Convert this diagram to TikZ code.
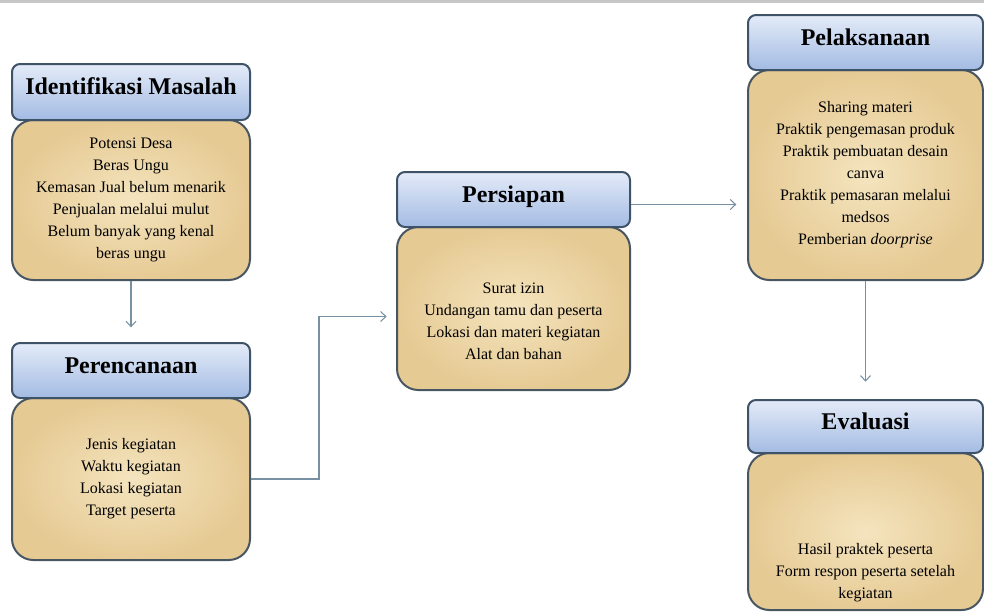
\documentclass[tikz,border=0pt]{standalone}
\usepackage{fontspec}
\setmainfont{Liberation Serif}
\usepackage{tikz}
\usetikzlibrary{arrows.meta,positioning,calc}

\definecolor{hdrline}{RGB}{62,82,104}
\definecolor{hdrtop}{RGB}{228,235,248}
\definecolor{hdrbot}{RGB}{163,187,227}
\definecolor{papin}{RGB}{244,228,190}
\definecolor{papout}{RGB}{230,202,148}
\definecolor{bodyline}{RGB}{72,86,98}
\definecolor{arrowc}{RGB}{120,145,162}

\begin{document}
\begin{tikzpicture}[
  x=0.75pt,y=-0.75pt,
  >={Straight Barb[length=4pt,width=7.5pt]},
  hdr/.style={draw=hdrline,line width=1.5pt,rounded corners=6pt,
              top color=hdrtop,bottom color=hdrbot,
              font=\fontsize{18}{20}\selectfont\bfseries,
              text height=12.5pt,text depth=8.5pt,
              inner sep=0pt,align=center},
  bdy/.style={draw=bodyline,line width=1.5pt,rounded corners=16pt,
              inner color=papin,outer color=papout,
              font=\fontsize{12}{16.5}\selectfont,
              inner sep=0pt,align=center},
  conn/.style={draw=arrowc,line width=0.8pt,->}
]
\useasboundingbox (0,0) rectangle (984,612);
\fill[black!22] (0,0) rectangle (984,3);

%% left column
\node[bdy,minimum width=178.5pt,minimum height=120pt] (idB) at (131,200)
  {Potensi Desa\\Beras Ungu\\Kemasan Jual belum menarik\\Penjualan melalui mulut\\Belum banyak yang kenal\\beras ungu};
\node[hdr,minimum width=178.5pt,minimum height=42pt] (idH) at (131,92) {Identifikasi Masalah};

\node[bdy,minimum width=178.5pt,minimum height=121.5pt] (plB) at (131,479)
  {Jenis kegiatan\\Waktu kegiatan\\Lokasi kegiatan\\Target peserta};
\node[hdr,minimum width=178.5pt,minimum height=41.25pt] (plH) at (131,370.5) {Perencanaan};

%% middle
\node[bdy,minimum width=174.75pt,minimum height=122.25pt] (psB) at (513.5,308.5)
  {\rule{0pt}{27pt}Surat izin\\Undangan tamu dan peserta\\Lokasi dan materi kegiatan\\Alat dan bahan};
\node[hdr,minimum width=174.75pt,minimum height=41.25pt] (psH) at (513.5,199.5) {Persiapan};

%% right column
\node[bdy,minimum width=176.25pt,minimum height=157.5pt] (pkB) at (865.5,175)
  {Sharing materi\\Praktik pengemasan produk\\Praktik pembuatan desain\\canva\\Praktik pemasaran melalui\\medsos\\Pemberian \emph{doorprise}};
\node[hdr,minimum width=176.25pt,minimum height=41.25pt] (pkH) at (865.5,42.5) {Pelaksanaan};

\node[bdy,minimum width=176.25pt,minimum height=117.75pt] (evB) at (865.5,531.5)
  {\rule{0pt}{70pt}Hasil praktek peserta\\Form respon peserta setelah\\kegiatan};
\node[hdr,minimum width=176.25pt,minimum height=39.75pt] (evH) at (865.5,426.5) {Evaluasi};

%% connectors
\coordinate (psOut) at ($(psH.east)+(0,5)$);
\draw[conn,shorten >=11pt] (idB.south) -- (plH.north);
\draw[conn,shorten >=7pt] (plB.east) -- ++(68,0) |- ($(psB.west)+(0,8)$);
\draw[conn,shorten >=8pt] (psOut) -- (psOut -| pkB.west);
\draw[conn,shorten >=13pt] (pkB.south) -- (evH.north);

\end{tikzpicture}
\end{document}
